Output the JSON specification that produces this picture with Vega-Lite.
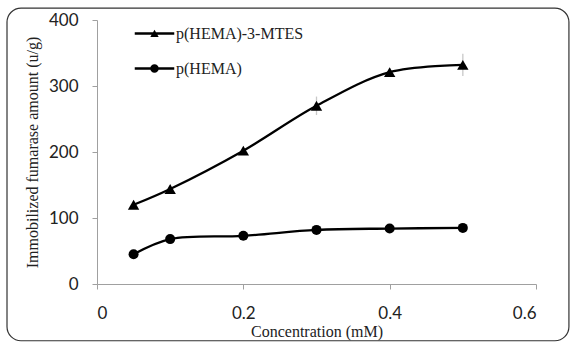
{
  "$schema": "https://vega.github.io/schema/vega-lite/v6.json",
  "width": 439,
  "height": 264,
  "autosize": "none",
  "padding": {"left": 97, "top": 20, "right": 35, "bottom": 60},
  "background": "white",
  "config": {
    "view": {"stroke": null},
    "axis": {
      "domainColor": "#a0a0a0",
      "tickColor": "#a0a0a0",
      "grid": false,
      "labelFont": "Lato",
      "labelFontSize": 17,
      "labelColor": "#222",
      "titleFont": "Liberation Serif",
      "titleFontSize": 16,
      "titleFontWeight": "normal",
      "titleColor": "#222",
      "tickSize": 5
    }
  },
  "data": {
    "values": [
      {"conc": 0.05, "series": "p(HEMA)-3-MTES", "val": 120, "lo": 114, "hi": 126},
      {"conc": 0.1, "series": "p(HEMA)-3-MTES", "val": 144, "lo": 138, "hi": 150},
      {"conc": 0.2, "series": "p(HEMA)-3-MTES", "val": 202, "lo": 196, "hi": 208},
      {"conc": 0.3, "series": "p(HEMA)-3-MTES", "val": 270, "lo": 256, "hi": 284},
      {"conc": 0.4, "series": "p(HEMA)-3-MTES", "val": 321, "lo": 315, "hi": 327},
      {"conc": 0.5, "series": "p(HEMA)-3-MTES", "val": 332, "lo": 315, "hi": 349},
      {"conc": 0.05, "series": "p(HEMA)", "val": 45, "lo": 42, "hi": 48},
      {"conc": 0.1, "series": "p(HEMA)", "val": 68, "lo": 65, "hi": 71},
      {"conc": 0.2, "series": "p(HEMA)", "val": 73, "lo": 70, "hi": 76},
      {"conc": 0.3, "series": "p(HEMA)", "val": 82, "lo": 79, "hi": 85},
      {"conc": 0.4, "series": "p(HEMA)", "val": 84, "lo": 81, "hi": 87},
      {"conc": 0.5, "series": "p(HEMA)", "val": 85, "lo": 82, "hi": 88}
    ]
  },
  "layer": [
    {
      "data": {"values": [{}]},
      "mark": {"type": "rect", "fill": null, "filled": false, "stroke": "#333", "strokeWidth": 1.2, "cornerRadius": 14, "clip": false},
      "encoding": {
        "x": {"datum": -0.123, "type": "quantitative", "scale": {"domain": [0, 0.6], "nice": false}},
        "x2": {"datum": 0.645},
        "y": {"datum": 418, "type": "quantitative", "scale": {"domain": [0, 400], "nice": false}},
        "y2": {"datum": -86}
      }
    },
    {
      "mark": {"type": "rule", "color": "#c8c8c8", "strokeWidth": 1.3},
      "encoding": {
        "x": {"field": "conc", "type": "quantitative", "scale": {"domain": [0, 0.6], "nice": false},
          "axis": {"values": [0, 0.2, 0.4, 0.6], "title": "Concentration (mM)", "labelPadding": 16, "titlePadding": 2, "format": "~g",
            "encode": {"ticks": {"update": {"y": {"value": -5}}}}}},
        "y": {"field": "lo", "type": "quantitative", "scale": {"domain": [0, 400], "nice": false},
          "axis": {"values": [0, 100, 200, 300, 400], "title": "Immobilized fumarase amount  (u/g)", "labelPadding": 14, "titlePadding": 8,
            "encode": {"ticks": {"update": {"x": {"value": 5}}}}}},
        "y2": {"field": "hi"}
      }
    },
    {
      "mark": {"type": "line", "color": "black", "strokeWidth": 2.3, "interpolate": "catmull-rom"},
      "encoding": {
        "x": {"field": "conc", "type": "quantitative"},
        "y": {"field": "val", "type": "quantitative"},
        "detail": {"field": "series"}
      }
    },
    {
      "mark": {"type": "point", "filled": true, "color": "black", "opacity": 1},
      "encoding": {
        "x": {"field": "conc", "type": "quantitative"},
        "y": {"field": "val", "type": "quantitative"},
        "shape": {"field": "series", "type": "nominal",
          "scale": {"domain": ["p(HEMA)-3-MTES", "p(HEMA)"], "range": ["triangle-up", "circle"]},
          "legend": null},
        "size": {"field": "series", "type": "nominal",
          "scale": {"domain": ["p(HEMA)-3-MTES", "p(HEMA)"], "range": [130, 100]},
          "legend": null}
      }
    },
    {
      "transform": [{"filter": "false"}],
      "mark": {"type": "point", "filled": true, "color": "black", "opacity": 1},
      "encoding": {
        "x": {"field": "conc", "type": "quantitative"},
        "y": {"field": "val", "type": "quantitative"},
        "shape": {"field": "series", "type": "nominal",
          "scale": {"domain": ["p(HEMA)-3-MTES", "p(HEMA)"],
            "range": ["M-2.6,-0.15H2.6V0.15H-2.6ZM-0.55,0.45L0,-0.5L0.55,0.45Z", "M-2.6,-0.15H2.6V0.15H-2.6ZM0.56,0A0.56,0.56 0 1,1 -0.56,0A0.56,0.56 0 1,1 0.56,0Z"]},
          "legend": {
            "title": null,
            "orient": "none",
            "legendX": 49,
            "legendY": 5,
            "padding": 0,
            "symbolSize": 231,
            "labelOffset": 13,
            "rowPadding": 18,
            "symbolFillColor": "black",
            "labelFont": "Liberation Serif",
            "labelFontSize": 16,
            "labelColor": "#222",
            "labelLimit": 300
          }}
      }
    }
  ],
  "resolve": {"scale": {"shape": "independent"}, "legend": {"shape": "independent"}}
}
